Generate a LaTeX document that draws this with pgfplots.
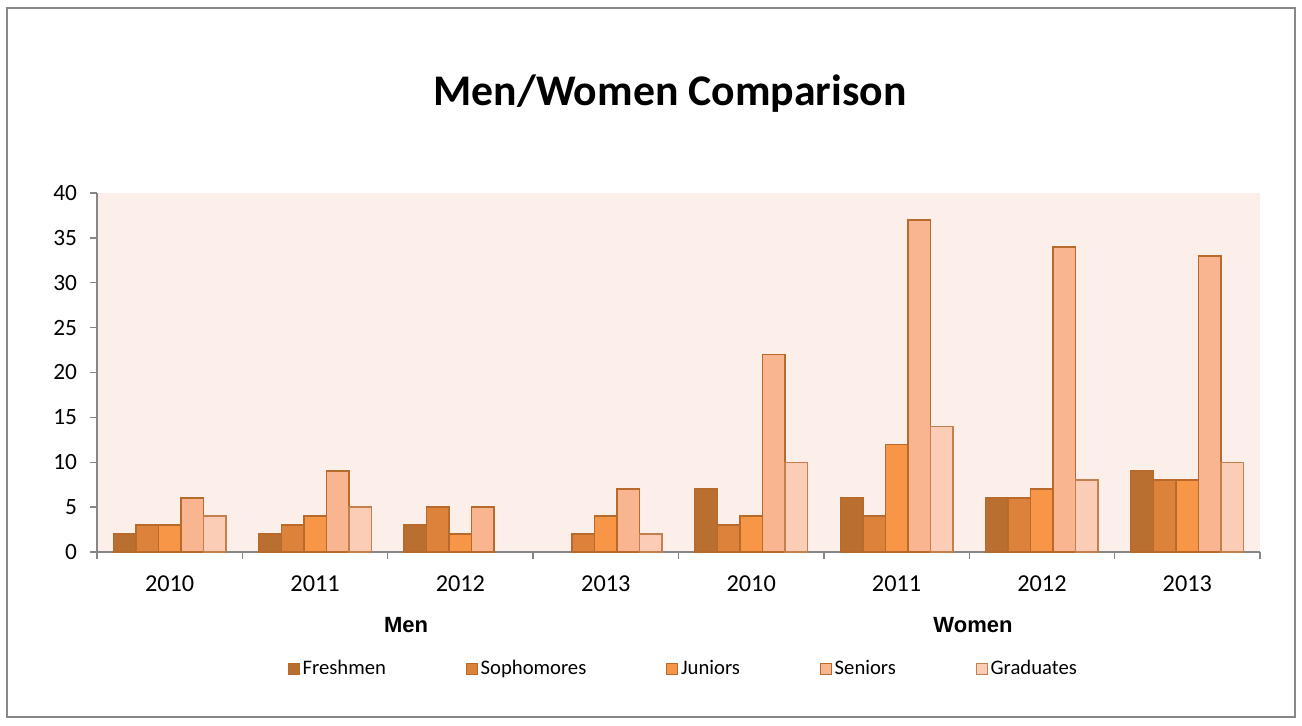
\documentclass[border=0pt]{standalone}
\usepackage{pgfplots}
\pgfplotsset{compat=1.18}
\usepackage{fontspec}
\setmainfont{Carlito}
\newfontfamily\arialfont{Liberation Sans}
\definecolor{cFre}{HTML}{B96F30}
\definecolor{cSop}{HTML}{DC823B}
\definecolor{cJun}{HTML}{F79646}
\definecolor{cSen}{HTML}{F9B590}
\definecolor{cGra}{HTML}{FBCDB6}
\definecolor{cEdge}{HTML}{B8692C}
\definecolor{cBg}{HTML}{FCEEE9}
\definecolor{cAxis}{HTML}{868686}
\definecolor{cFrame}{HTML}{878787}
\begin{document}
\begin{tikzpicture}
% page bounds: px -> pt : x=(px-97)*0.75, y=(552-py)*0.75
\path[fill=white] (-72.75pt,-129.75pt) rectangle (903.75pt,414pt);
\draw[cFrame, line width=1pt] (-67.5pt,-123.75pt) rectangle (898.5pt,408pt);
\begin{axis}[
  at={(0pt,0pt)}, anchor=south west,
  scale only axis,
  width=872.25pt, height=269.25pt,
  xmin=-0.5, xmax=7.5, ymin=0, ymax=40,
  axis background/.style={fill=cBg},
  axis x line*=bottom, axis y line*=left,
  axis line style={cAxis, line width=1pt},
  x axis line style={-}, y axis line style={-},
  ytick={0,5,...,40},
  xtick={0,...,7},
  xticklabels={2010,2011,2012,2013,2010,2011,2012,2013},
  minor xtick={-0.5,0.5,...,7.5},
  tick align=outside,
  major tick length=5pt,
  minor tick length=5pt,
  xtick style={draw=none},
  minor x tick style={draw=cAxis, line width=1pt},
  ytick style={draw=cAxis, line width=1pt},
  tick label style={font=\fontsize{17.5}{20}\selectfont, text=black},
  /pgf/number format/assume math mode=true,
  xticklabel style={yshift=-9pt, font=\fontsize{18.2}{20}\selectfont},
  yticklabel style={xshift=-6.5pt},
  ybar,
  bar width=16.875pt,
  legend style={at={(0.5045,-0.325)}, anchor=center, draw=none, fill=none,
    font=\fontsize{15.5}{18}\selectfont, /tikz/every even column/.append style={column sep=58pt}},
  legend columns=5,
  legend image code/.code={\draw[#1, line width=0.8pt, bar shift=0pt] (0pt,-4.1pt) rectangle (8.25pt,4.1pt);},
  clip=false,
]
\addplot[fill=cFre, draw=cEdge, line width=1.1pt, bar shift=-33.75pt] coordinates {(0,2) (1,2) (2,3) (4,7) (5,6) (6,6) (7,9)};
\addplot[fill=cSop, draw=cEdge, line width=1.1pt, bar shift=-16.875pt] coordinates {(0,3) (1,3) (2,5) (3,2) (4,3) (5,4) (6,6) (7,8)};
\addplot[fill=cJun, draw=cEdge, line width=1.1pt, bar shift=0pt] coordinates {(0,3) (1,4) (2,2) (3,4) (4,4) (5,12) (6,7) (7,8)};
\addplot[fill=cSen, draw=cEdge, line width=1.1pt, bar shift=16.875pt] coordinates {(0,6) (1,9) (2,5) (3,7) (4,22) (5,37) (6,34) (7,33)};
\addplot[fill=cGra, draw=cEdge!85!white, line width=1.1pt, bar shift=33.75pt] coordinates {(0,4) (1,5) (3,2) (4,10) (5,14) (6,8) (7,10)};
\legend{Freshmen,Sophomores,Juniors,Seniors,Graduates}
\end{axis}
\node[font=\fontsize{32.8}{38}\selectfont\bfseries] at (429.75pt,344pt) {Men/Women Comparison};
\node[font=\arialfont\bfseries\fontsize{16.5}{20}\selectfont] at (231.75pt,-55pt) {Men};
\node[font=\arialfont\bfseries\fontsize{16.5}{20}\selectfont] at (657pt,-55pt) {Women};
\end{tikzpicture}
\end{document}
